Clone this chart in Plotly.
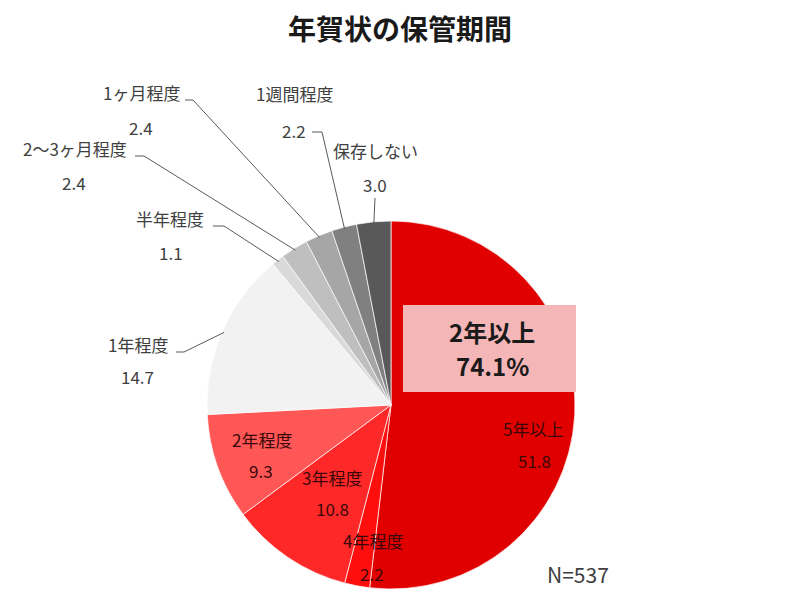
import math
import plotly.graph_objects as go

# data, clockwise from 12 o'clock
labels = ["5年以上", "4年程度", "3年程度", "2年程度", "1年程度",
          "半年程度", "2～3ヶ月程度", "1ヶ月程度", "1週間程度", "保存しない"]
values = [51.8, 2.2, 10.8, 9.3, 14.7, 1.1, 2.4, 2.4, 2.2, 3.0]
colors = ["#E00000", "#FF0E0E", "#FF2828", "#FF5656", "#F2F2F2",
          "#D9D9D9", "#BFBFBF", "#A6A6A6", "#808080", "#595959"]
n_total = 537
summary_label = "2年以上"
summary_value = 74.1

W, H = 800, 600
OFF = 8  # page body margin
CX, CY, R = 391, 405, 184


def px(x, y):
    return (x - OFF) / W, 1 - (y - OFF) / H


dx0, dy1 = px(CX - R, CY - R)
dx1, dy0 = px(CX + R, CY + R)

fig = go.Figure(go.Pie(
    labels=labels,
    values=values,
    sort=False,
    direction="clockwise",
    rotation=0,
    marker=dict(colors=colors, line=dict(color="white", width=0.7)),
    textinfo="none",
    hoverinfo="label+value",
    domain=dict(x=[dx0, dx1], y=[dy0, dy1]),
    showlegend=False,
))

# label layout (pixel positions): name, value
inside_pos = {
    "5年以上": ((533, 428), (534, 460)),
    "4年程度": ((373, 540), (372, 573)),
    "3年程度": ((332, 477), (332, 508)),
    "2年程度": ((262, 439), (261, 471)),
}
outside_pos = {
    "1年程度": ((138, 344), (137, 376)),
    "半年程度": ((170, 218), (171, 252)),
    "2～3ヶ月程度": ((75, 148), (74, 182)),
    "1ヶ月程度": ((141, 93), (141, 127)),
    "1週間程度": ((294, 94), (294, 130)),
    "保存しない": ((375, 150), (375, 185)),
}
# leader start + elbow (pixels)
leader_start = {
    "1年程度": [(176, 352), (184, 352)],
    "半年程度": [(213, 226), (224, 226)],
    "2～3ヶ月程度": [(135, 156), (144, 156)],
    "1ヶ月程度": [(185, 100), (193, 100)],
    "1週間程度": [(312, 132), (322, 132)],
    "保存しない": [(375, 198)],
}

annotations = []
shapes = []
total = sum(values)
cum = 0
for lab, val in zip(labels, values):
    mid = (cum + val / 2) / total * 2 * math.pi
    cum += val
    if lab in inside_pos:
        (nx, ny), (vx, vy) = inside_pos[lab]
        col = "#3a0808"
    else:
        (nx, ny), (vx, vy) = outside_pos[lab]
        col = "#404040"
    for (x, y), t in (((nx, ny), lab), ((vx, vy), f"{val:.1f}")):
        ax, ay = px(x, y)
        annotations.append(dict(x=ax, y=ay, xref="paper", yref="paper", text=t,
                                showarrow=False, xanchor="center", yanchor="middle",
                                font=dict(size=17, color=col)))
    if lab in leader_start:
        ex = CX + (R - 2) * math.sin(mid)
        ey = CY - (R - 2) * math.cos(mid)
        pts = [px(*p) for p in leader_start[lab]] + [px(ex, ey)]
        path = "M " + " L ".join(f"{a},{b}" for a, b in pts)
        shapes.append(dict(type="path", xref="paper", yref="paper", path=path,
                           line=dict(color="#595959", width=1)))

# summary box
x0, y1 = px(403, 305)
x1, y0 = px(576, 392)
shapes.append(dict(type="rect", xref="paper", yref="paper", x0=x0, x1=x1, y0=y0, y1=y1,
                   fillcolor="#F4B6B6", line=dict(width=0), layer="above"))
for (x, y), t in (((492, 331), summary_label), ((492, 365), f"{summary_value}%")):
    ax, ay = px(x, y)
    annotations.append(dict(x=ax, y=ay, xref="paper", yref="paper", text=f"<b>{t}</b>",
                            showarrow=False, xanchor="center", yanchor="middle",
                            font=dict(size=24, color="#1a1a1a")))

ax, ay = px(578, 574)
annotations.append(dict(x=ax, y=ay, xref="paper", yref="paper", text=f"N={n_total}",
                        showarrow=False, xanchor="center", yanchor="middle",
                        font=dict(size=21, color="#404040")))

tx, ty = px(400, 28)
annotations.append(dict(x=tx, y=ty, xref="paper", yref="paper", text="<b>年賀状の保管期間</b>",
                        showarrow=False, xanchor="center", yanchor="middle",
                        font=dict(size=28, color="#1a1a1a")))

fig.update_layout(
    font=dict(family="Noto Sans CJK JP"),
    width=W, height=H,
    margin=dict(l=0, r=0, t=0, b=0),
    paper_bgcolor="white",
    annotations=annotations,
    shapes=shapes,
)

fig.write_html("out.html")
